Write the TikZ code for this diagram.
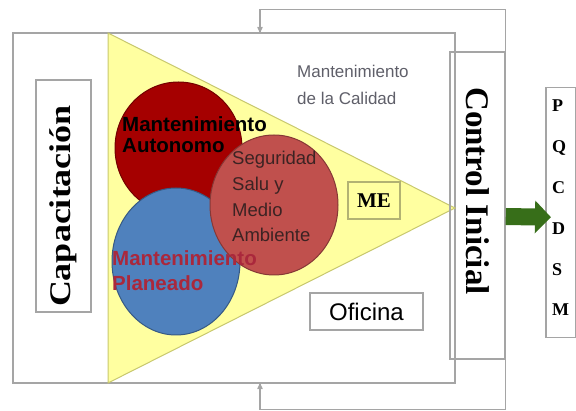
\documentclass[tikz,border=0pt]{standalone}
\usepackage{fontspec}
\setmainfont{Liberation Serif}
\setsansfont{Liberation Sans}
\usetikzlibrary{arrows,arrows.meta,positioning,shapes.geometric}
\definecolor{marco}{RGB}{165,165,165}
\definecolor{amarillo}{RGB}{255,255,160}
\definecolor{bordeam}{RGB}{200,200,110}
\definecolor{granate}{RGB}{165,0,0}
\definecolor{azul}{RGB}{79,129,189}
\definecolor{rojo}{RGB}{192,80,77}
\definecolor{rojoplan}{RGB}{170,40,60}
\definecolor{textoseg}{RGB}{60,35,35}
\definecolor{gristxt}{RGB}{95,95,105}
\definecolor{verde}{RGB}{55,110,25}

\begin{document}
\begin{tikzpicture}[x=1pt,y=-1pt,
  caja/.style={draw=marco,line width=1.5pt,inner sep=0pt},
  texto/.style={inner sep=0pt,anchor=base west,align=left},
  circulo/.style={ellipse,inner sep=0pt,line width=1pt},
  retro/.style={draw=marco,line width=1.2pt,->,>=stealth'},
  letra/.style={inner sep=0pt,anchor=base west,font=\rmfamily\bfseries\fontsize{18}{18}\selectfont}]
\useasboundingbox (0,0) rectangle (576,411);
\node[caja,minimum width=442,minimum height=350] (marco) at (234,208) {};
\draw[fill=amarillo,draw=bordeam,line width=1pt] (108,33) -- (108,383) -- (455,208) -- cycle;
%\draw [dashed] (108,33) rectangle (455,383) ;
\node[circulo,fill=granate,draw=granate!70!black,minimum width=127,minimum height=132] (autonomo) at (178.5,148) {};
\node[circulo,fill=azul,draw=azul!70!black,minimum width=128,minimum height=147] (planeado) at (176,261.5) {};
\node[circulo,fill=rojo,draw=rojo!70!black,minimum width=128,minimum height=140] (seguridad) at (274,205) {};
% textos (base = ultima linea)
\node[texto,font=\sffamily\bfseries\fontsize{20.5}{21}\selectfont] (aut) at (122,153) {Mantenimiento\\Autonomo};
\node[texto,text=rojoplan,font=\sffamily\bfseries\fontsize{20.5}{25}\selectfont] (plan) at (112,291) {Mantenimiento\\Planeado};
\node[texto,text=textoseg,font=\sffamily\fontsize{18.5}{25.7}\selectfont] (seg) at (232,242) {Seguridad\\Salu y\\Medio\\Ambiente};
\node[texto,text=gristxt,font=\sffamily\fontsize{17}{27}\selectfont] (cal) at (297,105) {Mantenimiento\\de la Calidad};
\node[caja,draw=bordeam!70!gray,minimum width=52,minimum height=37,font=\rmfamily\bfseries\fontsize{21}{21}\selectfont] (me) at (374,200.5) {ME};
\node[caja,fill=white,minimum width=113,minimum height=37,font=\sffamily\fontsize{24}{24}\selectfont] (ofi) at (366.5,311.5) {Oficina};
% capacitacion y control
\node[caja,minimum width=55,minimum height=232] (capbox) at (63.5,196) {};
\node[rotate=90,font=\rmfamily\bfseries\fontsize{30}{30}\selectfont] (cap) at (63.5,206) {\scalebox{1.2}[1]{Capacitación}};
\node[caja,minimum width=55,minimum height=307] (ctrl) at (477.5,205.5) {};
\node[rotate=-90,font=\rmfamily\bfseries\fontsize{33}{33}\selectfont] (ctrltxt) at (478,191) {Control Inicial};
% retroalimentacion
\coordinate (entsup) at (260,33);
\coordinate (entinf) at (260,383);
\draw[retro] (ctrl.north east) -- ++(0,-42) -| (entsup);
\draw[retro] (ctrl.south east) -- ++(0,50) -| (entinf);
% salida
\node[caja,minimum width=30,minimum height=250,anchor=north west] (pq) at (545,87) {};
\foreach \l [count=\i from 0] in {P,Q,C,D,S,M}
  \node[letra] (l\i) at (552,112+40.8*\i) {\l};
\draw[verde,line width=17pt,-{Triangle[length=16pt,width=32pt]}] ([yshift=-11pt]ctrl.east) -- ([xshift=6pt,yshift=-4.5pt]pq.west);
\end{tikzpicture}
\end{document}
